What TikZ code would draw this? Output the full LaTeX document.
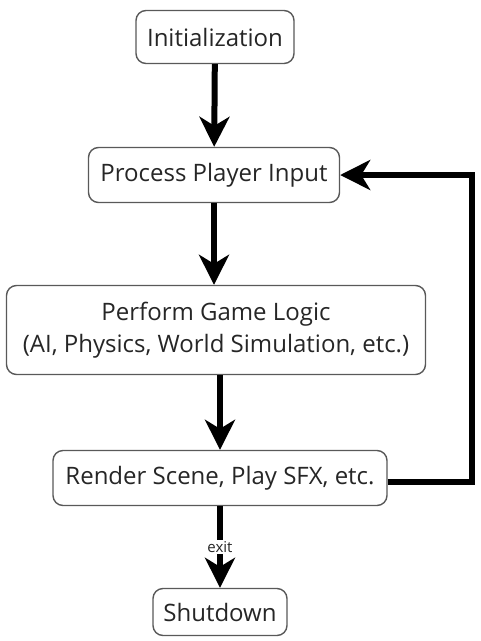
\documentclass[tikz,border=0pt]{standalone}
\usepackage{fontspec}
\setmainfont{Open Sans}
\usetikzlibrary{arrows.meta}
\begin{document}
\begin{tikzpicture}[x=1pt,y=-1pt,
  stepbox/.style={draw=black!65, line width=1.4pt, rounded corners=10pt, fill=white,
    inner sep=0pt, font=\fontsize{24}{32}\selectfont, text=black!85, align=center},
  flow/.style={line width=6pt, -{Stealth[length=30pt,width=30pt,inset=9pt]}},
  plain/.style={line width=6pt}]
\useasboundingbox (0,0) rectangle (481,641);
\node[stepbox, minimum width=158pt, minimum height=53pt] (init) at (215,37) {Initialization};
\node[stepbox, minimum width=251pt, minimum height=55pt] (input) at (214,175) {Process Player Input};
\node[stepbox, minimum width=419pt, minimum height=89pt] (logic) at (216,330) {Perform Game Logic\\(AI, Physics, World Simulation, etc.)};
\node[stepbox, minimum width=334pt, minimum height=55pt] (render) at (220,478) {Render Scene, Play SFX, etc.};
\node[stepbox, minimum width=134pt, minimum height=47pt] (shut) at (220,612) {Shutdown};
\node[font=\fontsize{15}{17}\selectfont, text=black!85, inner sep=1pt] (exitlbl) at (220,547) {exit};
\coordinate (loopa) at (472,482);
\coordinate (loopb) at (472,175);
\draw[flow] (init) -- (input);
\draw[flow] (input) -- (logic.north -| input);
\draw[flow] (logic.south -| render) -- (render);
\draw[plain] (render.south) -- (exitlbl.north);
\draw[flow] (exitlbl.south) -- (shut.north);
\draw[flow] (render.east |- loopa) -- (loopa) -- (loopb) -- (input.east);
\end{tikzpicture}
\end{document}
